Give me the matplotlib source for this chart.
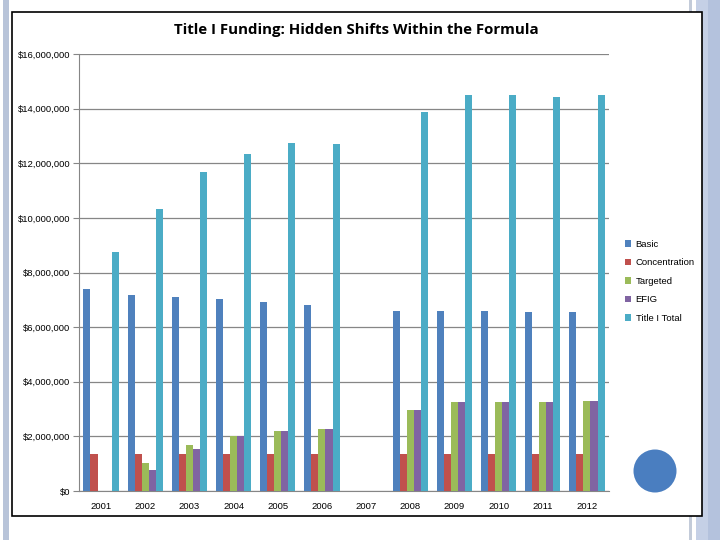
import numpy as np
import matplotlib
matplotlib.use("Agg")
import matplotlib.pyplot as plt
from matplotlib.patches import Rectangle, Ellipse, Patch
from matplotlib.ticker import FuncFormatter

plt.rcParams['font.family'] = ['Liberation Sans', 'DejaVu Sans']

nan = np.nan
years = ["2001", "2002", "2003", "2004", "2005", "2006", "2007",
         "2008", "2009", "2010", "2011", "2012"]
basic = [7.40e6, 7.18e6, 7.10e6, 7.03e6, 6.92e6, 6.81e6, nan,
         6.59e6, 6.59e6, 6.59e6, 6.56e6, 6.56e6]
concentration = [1.36e6, 1.36e6, 1.36e6, 1.36e6, 1.36e6, 1.36e6, nan,
                 1.36e6, 1.36e6, 1.36e6, 1.36e6, 1.36e6]
targeted = [nan, 1.03e6, 1.68e6, 2.00e6, 2.20e6, 2.27e6, nan,
            2.97e6, 3.26e6, 3.26e6, 3.26e6, 3.30e6]
efig = [nan, 0.77e6, 1.54e6, 2.00e6, 2.20e6, 2.27e6, nan,
        2.97e6, 3.26e6, 3.26e6, 3.26e6, 3.30e6]
total = [8.75e6, 10.33e6, 11.68e6, 12.34e6, 12.75e6, 12.71e6, nan,
         13.88e6, 14.50e6, 14.50e6, 14.43e6, 14.50e6]

series = [("Basic", basic, "#4F81BD"),
          ("Concentration", concentration, "#C0504D"),
          ("Targeted", targeted, "#9BBB59"),
          ("EFIG", efig, "#8064A2"),
          ("Title I Total", total, "#4BACC6")]

fig = plt.figure(figsize=(7.2, 5.4), dpi=100)
fig.patch.set_facecolor("white")

# slide decorations
fig.patches.append(Rectangle((3/720, 0), 6/720, 1, transform=fig.transFigure,
                             facecolor="#B8C4D9", edgecolor="none", zorder=0))
fig.patches.append(Rectangle((689/720, 0), 3/720, 1, transform=fig.transFigure,
                             facecolor="#C3CBD9", edgecolor="none", zorder=0))
fig.patches.append(Rectangle((696/720, 0), 24/720, 1, transform=fig.transFigure,
                             facecolor="#C5D0E6", edgecolor="none", zorder=0))
fig.patches.append(Rectangle((708/720, 0), 12/720, 1, transform=fig.transFigure,
                             facecolor="#B4C2DD", edgecolor="none", zorder=0))
# chart frame
fig.patches.append(Rectangle((12/720, 1 - 516/540), (702 - 12)/720, (516 - 12)/540,
                             transform=fig.transFigure, facecolor="white",
                             edgecolor="black", linewidth=1.2, zorder=1))

ax = fig.add_axes([79/720, 1 - 491/540, (609 - 79)/720, (491 - 54)/540])
ax.set_zorder(2)
ax.patch.set_alpha(0)

x = np.arange(len(years))
w = 0.16
for i, (name, vals, col) in enumerate(series):
    ax.bar(x + (i - 2) * w, vals, width=w, color=col, label=name, zorder=3)

ax.set_xlim(-0.5, len(years) - 0.5)
ax.set_ylim(0, 16e6)
ax.set_yticks(np.arange(0, 16e6 + 1, 2e6))
ax.yaxis.set_major_formatter(FuncFormatter(lambda v, p: "${:,.0f}".format(v)))
ax.set_xticks(x)
ax.set_xticklabels(years)
ax.grid(axis="y", color="#868686", linewidth=0.9, zorder=0)
for s in ["top", "right"]:
    ax.spines[s].set_visible(False)
for s in ["left", "bottom"]:
    ax.spines[s].set_color("#868686")
ax.tick_params(axis="y", length=4, color="#868686", labelsize=6.8, pad=2)
ax.tick_params(axis="x", length=0, labelsize=6.8, pad=8)

fig.text(356/720, 1 - 30/540, "Title I Funding: Hidden Shifts Within the Formula",
         ha="center", va="center", fontsize=10.8, fontweight="bold",
         family="Open Sans", zorder=5)

handles = [Patch(facecolor=c, edgecolor="none") for _, _, c in series]
labels = [n for n, _, _ in series]
fig.legend(handles, labels, loc="upper left", bbox_to_anchor=(621/720, 1 - 236/540),
           frameon=False, fontsize=6.8, handlelength=0.7, handleheight=0.7,
           handletextpad=0.45, labelspacing=1.0, borderaxespad=0)

fig.patches.append(Ellipse((655/720, 1 - 471/540), 43/720, 43/540,
                           transform=fig.transFigure, facecolor="#4A7EC0",
                           edgecolor="none", zorder=5))

fig.savefig("out.png", dpi=100)
